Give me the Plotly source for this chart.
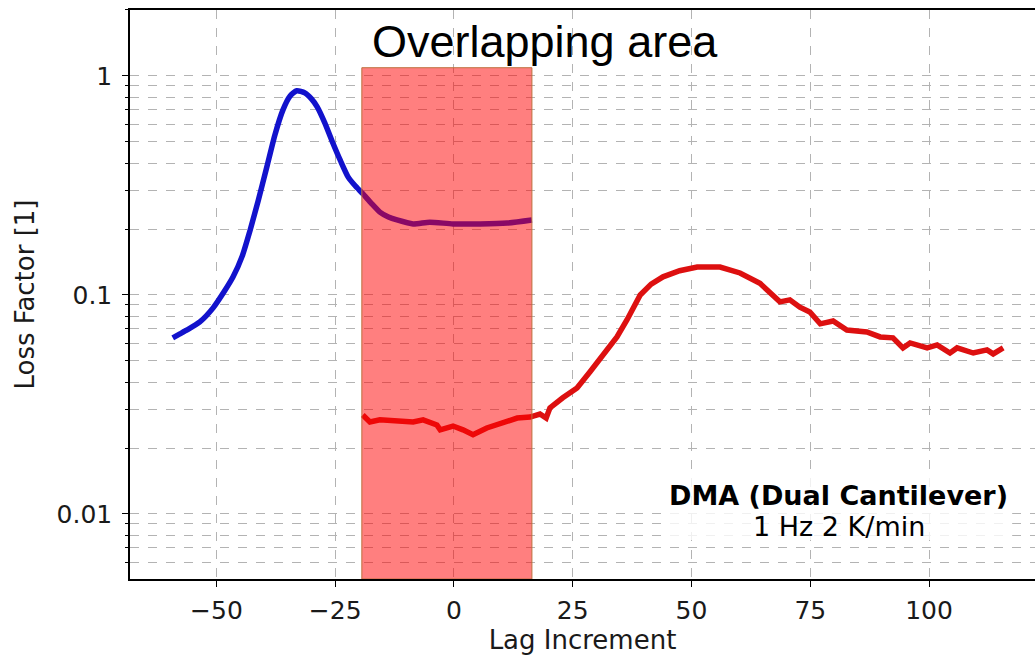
import plotly.graph_objects as go

# Blue curve (first measurement)
blue_x = [-59.2, -57.7, -56.2, -53.5, -50.7, -48.2, -46.5, -44.6, -42.9, -41.2, -39.4, -37.7, -36.0,
          -34.5, -33.1, -31.4, -30.0, -28.8, -27.2, -25.5, -23.9, -22.3, -20.8, -19.2, -17.4, -15.6,
          -13.8, -12.0, -8.6, -5.1, -0.2, 5.5, 11.2, 16.4]
blue_y = [0.0637, 0.0664, 0.0692, 0.0753, 0.0873, 0.105, 0.121, 0.150, 0.198, 0.270, 0.384, 0.538,
          0.70, 0.81, 0.855, 0.836, 0.785, 0.722, 0.610, 0.494, 0.410, 0.346, 0.315, 0.290, 0.262,
          0.239, 0.227, 0.220, 0.211, 0.215, 0.211, 0.211, 0.213, 0.220]

# Red curve (second measurement)
red_x = [-19.2, -17.7, -15.6, -12.0, -8.6, -6.5, -3.6, -2.9, -0.2, 1.9, 4.0, 6.9, 10.3, 13.3, 16.0,
         18.1, 19.4, 20.2, 22.9, 25.9, 28.6, 31.4, 34.3, 36.4, 39.2, 41.5, 44.0, 47.5, 51.2, 56.0,
         60.2, 64.4, 68.6, 70.7, 72.8, 74.9, 77.1, 79.8, 82.7, 86.9, 89.7, 92.4, 94.5, 96.0, 99.6,
         101.7, 104.4, 105.9, 108.0, 109.3, 112.2, 113.5, 115.6]
red_y = [0.0283, 0.0263, 0.0269, 0.0266, 0.0263, 0.0269, 0.0255, 0.0242, 0.0252, 0.0242, 0.0230,
         0.0247, 0.0263, 0.0274, 0.0277, 0.0286, 0.0274, 0.0305, 0.0339, 0.0376, 0.0445, 0.0532,
         0.0643, 0.0769, 0.100, 0.112, 0.121, 0.129, 0.134, 0.134, 0.126, 0.113, 0.093, 0.095, 0.088,
         0.0836, 0.0738, 0.076, 0.0692, 0.0678, 0.0643, 0.0637, 0.0573, 0.0604, 0.0573, 0.0591,
         0.0543, 0.0573, 0.0549, 0.0543, 0.0561, 0.0538, 0.0573]

# Overlap region
overlap_x = [-19.4, 16.4]
overlap_top = 1.09

x_ticks = [-50, -25, 0, 25, 50, 75, 100]
y_ticks = [0.01, 0.1, 1]
y_ticktext = ["0.01", "0.1", "1"]
y_minor = [m * 10.0 ** e for e in (-3, -2, -1, 0) for m in range(2, 10)]

x_range = [-68.2, 122.3]
y_range_log = [-2.297, 0.301]
y_bottom = 10 ** y_range_log[0]

FONT = "DejaVu Sans"
GRID = "#b3b3b3"

fig = go.Figure()
fig.add_trace(go.Scatter(x=blue_x, y=blue_y, mode="lines",
                         line=dict(color="#1212cc", width=5.5, shape="spline", smoothing=0.6),
                         showlegend=False))
fig.add_trace(go.Scatter(x=red_x, y=red_y, mode="lines",
                         line=dict(color="#dd1010", width=5.5), showlegend=False))

fig.add_shape(type="rect", xref="x", yref="y",
              x0=overlap_x[0], x1=overlap_x[1], y0=y_bottom, y1=overlap_top,
              fillcolor="rgba(255,0,0,0.5)", line=dict(color="rgb(190,110,60)", width=1),
              layer="above")

# semi-transparent text box background
fig.add_shape(type="rect", xref="x", yref="y",
              x0=44.4, x1=117.5, y0=0.0076, y1=0.0146,
              fillcolor="rgba(255,255,255,0.8)", line=dict(width=0), layer="above")

fig.add_annotation(x=19.2, y=0.945, xref="x", yref="paper", text="Overlapping area",
                   xanchor="center", yanchor="middle",
                   showarrow=False, font=dict(family="Liberation Sans", size=45, color="black"))
fig.add_annotation(x=81.0, y=0.147, xref="x", yref="paper",
                   text="<b>DMA (Dual Cantilever)</b>", xanchor="center", yanchor="middle",
                   showarrow=False, font=dict(family=FONT, size=27, color="black"))
fig.add_annotation(x=81.0, y=0.093, xref="x", yref="paper",
                   text="1 Hz 2 K/min", xanchor="center", yanchor="middle",
                   showarrow=False, font=dict(family=FONT, size=27, color="black"))

fig.update_layout(
    width=1035, height=664,
    margin=dict(l=130, r=0, t=10, b=85),
    plot_bgcolor="white", paper_bgcolor="white",
    font=dict(family=FONT, size=25, color="#1a1a1a"),
    xaxis=dict(range=x_range, tickvals=x_ticks, showline=True, linecolor="black", linewidth=1.5,
               mirror=True, ticks="outside", ticklen=6, tickcolor="black", ticklabelstandoff=2,
               showgrid=True, gridcolor=GRID, griddash="dash", gridwidth=1, zeroline=False,
               title=dict(text="Lag Increment", font=dict(size=26), standoff=6)),
    yaxis=dict(type="log", range=y_range_log, tickvals=y_ticks, ticktext=y_ticktext,
               showline=True, linecolor="black", linewidth=1.5,
               ticks="outside", ticklen=6, tickcolor="black", ticklabelstandoff=5,
               showgrid=True, gridcolor=GRID, griddash="dash", gridwidth=1, zeroline=False,
               minor=dict(tickvals=y_minor, ticks="outside", ticklen=3, tickcolor="black",
                          showgrid=True, gridcolor=GRID, griddash="dash", gridwidth=1),
               title=dict(text="Loss Factor [1]", font=dict(size=26), standoff=14)),
)

fig.write_html("out.html")
